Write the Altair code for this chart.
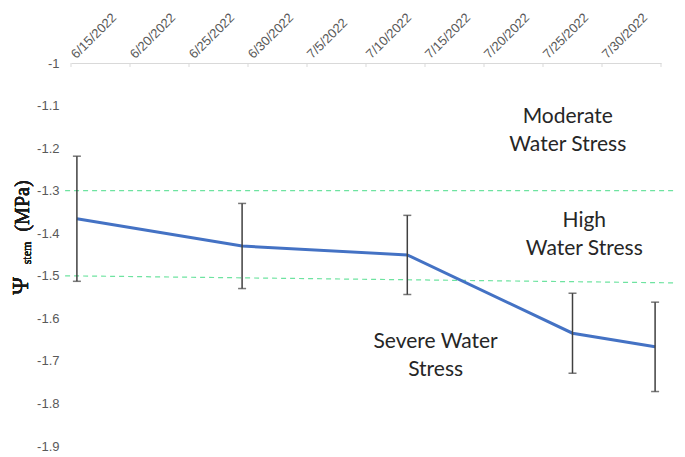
import altair as alt
import pandas as pd

# ---- data ----
dates = ["2022-06-15", "2022-06-29", "2022-07-13", "2022-07-27", "2022-08-03"]
means = [-1.366, -1.430, -1.451, -1.635, -1.667]
errs = [0.147, 0.100, 0.093, 0.094, 0.105]

tick_days = [0, 5, 10, 15, 20, 25, 30, 35, 40, 45, 50]
tick_labels = ["6/15/2022", "6/20/2022", "6/25/2022", "6/30/2022", "7/5/2022",
               "7/10/2022", "7/15/2022", "7/20/2022", "7/25/2022", "7/30/2022", ""]
y_ticks = [-1.0, -1.1, -1.2, -1.3, -1.4, -1.5, -1.6, -1.7, -1.8, -1.9]

# stress threshold lines (x in days from 6/15, y in MPa)
thr_id = ["upper", "upper", "lower", "lower"]
thr_x = [-0.5, 52.1, -0.5, 52.1]
thr_y = [-1.30, -1.30, -1.50, -1.517]

ann_text = ["Moderate\nWater Stress", "High\nWater Stress", "Severe Water\nStress"]
ann_x = [42.1, 43.5, 30.9]
ann_y = [-1.1265, -1.372, -1.6563]

start = pd.Timestamp("2022-06-15")
df = pd.DataFrame({
    "date": dates,
    "mean": means,
    "err": errs,
})
df["day"] = (pd.to_datetime(df["date"]) - start).dt.days + 0.5
df["lo"] = df["mean"] - df["err"]
df["hi"] = df["mean"] + df["err"]

thr = pd.DataFrame({"id": thr_id, "x": thr_x, "y": thr_y})
ann = pd.DataFrame({"text": ann_text, "x": ann_x, "y": ann_y})
ticks = pd.DataFrame({"day": tick_days})

label_arr = "[" + ",".join("'" + t + "'" for t in tick_labels) + "]"

xscale = alt.Scale(domain=[0, 50], nice=False, zero=False)
yscale = alt.Scale(domain=[-1.9, -1.0], nice=False, zero=False)

x_axis = alt.Axis(
    orient="top", values=tick_days, labelExpr=label_arr + "[round(datum.value/5)]",
    labelAngle=315, labelAlign="left", labelBaseline="middle", labelPadding=7,
    labelOffset=2,
    labelFont="Liberation Sans", labelFontSize=13, labelColor="#595959",
    domainColor="#d9d9d9", domainWidth=1, tickSize=0, grid=False, title=None,
    labelOverlap=False, labelBound=False,
)
y_axis = alt.Axis(
    values=y_ticks, labelExpr="'-' + format(-datum.value, '.1~f')",
    labelFont="Liberation Sans", labelFontSize=13, labelColor="#595959",
    labelPadding=12, domain=False, ticks=False, grid=False, title=None,
)

base = alt.Chart(df)

axes = base.mark_point(opacity=0).encode(
    x=alt.X("day:Q", scale=xscale, axis=x_axis),
    y=alt.Y("mean:Q", scale=yscale, axis=y_axis),
)

tick_marks = alt.Chart(ticks).mark_rule(color="#d9d9d9", strokeWidth=1).encode(
    x=alt.X("day:Q", scale=xscale), y=alt.value(0), y2=alt.value(4)
)

thr_lines = alt.Chart(thr).mark_line(
    color="#6ee3a0", strokeWidth=1.2, strokeDash=[5, 4], clip=False
).encode(
    x=alt.X("x:Q", scale=xscale), y=alt.Y("y:Q", scale=yscale), detail="id:N"
)

line = base.mark_line(color="#4472C4", strokeWidth=3).encode(
    x=alt.X("day:Q", scale=xscale), y=alt.Y("mean:Q", scale=yscale)
)

bars = base.mark_rule(color="#404040", strokeWidth=1.5).encode(
    x=alt.X("day:Q", scale=xscale), y=alt.Y("lo:Q", scale=yscale), y2="hi:Q"
)
cap_lo = base.mark_tick(color="#404040", thickness=1.5, size=8, orient="horizontal").encode(
    x=alt.X("day:Q", scale=xscale), y=alt.Y("lo:Q", scale=yscale)
)
cap_hi = base.mark_tick(color="#404040", thickness=1.5, size=8, orient="horizontal").encode(
    x=alt.X("day:Q", scale=xscale), y=alt.Y("hi:Q", scale=yscale)
)

annot = alt.Chart(ann).mark_text(
    font="Lato", fontSize=21, color="#262626", lineBreak="\n", lineHeight=28,
    align="center", baseline="middle",
).encode(
    x=alt.X("x:Q", scale=xscale), y=alt.Y("y:Q", scale=yscale), text="text:N"
)

# y-axis title: Psi with subscript "stem" and "(MPa)"
t_psi = alt.Chart(df).mark_text(
    text="Ψ", font="Liberation Serif", fontSize=24, fontWeight="normal", angle=270,
    color="#1a1a1a", align="center", baseline="middle",
).encode(x=alt.value(-50), y=alt.value(223))
t_stem = alt.Chart(df).mark_text(
    text="stem", font="Liberation Serif", fontSize=12, fontWeight="normal", angle=270,
    color="#1a1a1a", align="center", baseline="middle",
).encode(x=alt.value(-44), y=alt.value(190))
t_mpa = alt.Chart(df).mark_text(
    text="(MPa)", font="Liberation Serif", fontSize=20, fontWeight="normal", angle=270,
    color="#1a1a1a", align="center", baseline="middle",
).encode(x=alt.value(-48), y=alt.value(143))

chart = alt.layer(
    axes, tick_marks, thr_lines, line, bars, cap_lo, cap_hi, annot, t_psi, t_stem, t_mpa
).properties(
    width=590, height=383,
    autosize=alt.AutoSizeParams(type="none"),
    padding={"left": 63, "top": 55, "right": 16, "bottom": 10},
    background="white",
).configure_view(stroke=None)

chart.save("out.html", embed_options={"renderer": "svg", "actions": False})
